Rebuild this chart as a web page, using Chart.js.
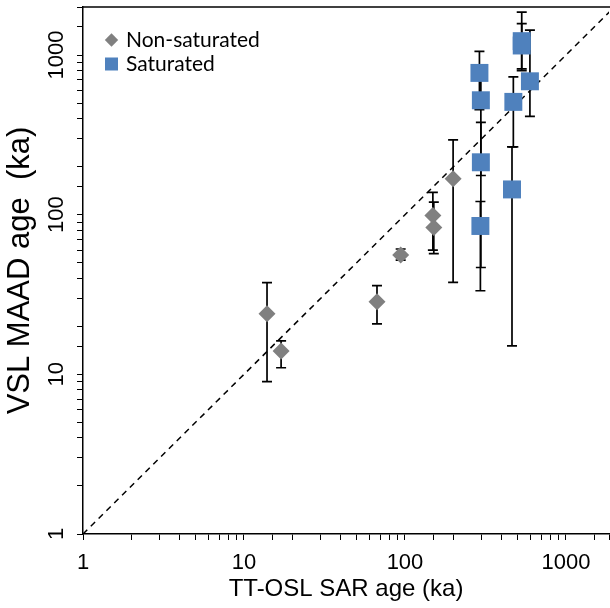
<!DOCTYPE html>
<html>
<head>
<meta charset="utf-8">
<script src="https://cdn.jsdelivr.net/npm/chart.js@4/dist/chart.umd.min.js"></script>
<style>
  body { margin: 0; background: #fff; }
  canvas { display: block; }
</style>
</head>
<body>
<canvas id="ages" width="610" height="608"></canvas>
<script>
// non-saturated samples: TT-OSL SAR age, VSL MAAD age, upper/lower error limits (ka)
const nsSar = [13.9, 17.0, 67, 94, 149, 151, 199];
const nsVsl = [24, 14, 28.5, 56, 99, 83, 168];
const nsHi = [37.5, 16.2, 36, 61, 138, 120, 294];
const nsLo = [9.0, 11.0, 20.7, 52, 60, 57, 37.7];

// saturated samples
const satSar = [290, 296, 296, 294, 531, 531, 597, 471, 462];
const satVsl = [773, 521, 213, 85, 1222, 1148, 685, 509, 144];
const satHi = [1054, 780, 379, 121, 1855, 1575, 1431, 730, 266];
const satLo = [455, 176, 46.7, 33.4, 820, 800, 413, 266, 15.1];

// 1:1 reference line and axis ranges
const oneToOne = [1, 2000];
const xMin = 1, xMax = 1850;
const yMin = 1, yMax = 2000;
const tickLabels = [1, 10, 100, 1000];

const GREY = '#808080';
const BLUE = '#4f81bd';
const TICK_FONT = '22px "Liberation Sans"';

function points(xs, ys) {
    return xs.map((x, i) => ({x: x, y: ys[i]}));
}

// keep the plot area fixed: no extra room reserved for edge labels
function fixBox(size) {
    return s => {
        if (s.isHorizontal()) s.height = size; else s.width = size;
        s.paddingTop = s.paddingBottom = s.paddingLeft = s.paddingRight = 0;
    };
}

// vertical error bars with caps, drawn under the markers
const errorBars = {
    id: 'errorBars',
    beforeDatasetsDraw(chart) {
        const ctx = chart.ctx;
        const xs = chart.scales.x, ys = chart.scales.y;
        ctx.save();
        ctx.strokeStyle = '#000';
        ctx.lineWidth = 1.7;
        chart.data.datasets.forEach(ds => {
            if (!ds.errHi) return;
            ds.data.forEach((p, j) => {
                const x = xs.getPixelForValue(p.x);
                const top = ys.getPixelForValue(ds.errHi[j]);
                const bot = ys.getPixelForValue(ds.errLo[j]);
                ctx.beginPath();
                ctx.moveTo(x, top); ctx.lineTo(x, bot);
                ctx.moveTo(x - 5, top); ctx.lineTo(x + 5, top);
                ctx.moveTo(x - 5, bot); ctx.lineTo(x + 5, bot);
                ctx.stroke();
            });
        });
        ctx.restore();
    }
};

// y tick labels are written vertically, reading upwards
const yTickLabels = {
    id: 'yTickLabels',
    afterDraw(chart) {
        const ctx = chart.ctx;
        const ys = chart.scales.y;
        ctx.save();
        ctx.font = TICK_FONT;
        ctx.fillStyle = '#000';
        ctx.textAlign = 'center';
        ctx.textBaseline = 'middle';
        tickLabels.forEach(v => {
            ctx.save();
            ctx.translate(57, ys.getPixelForValue(v));
            ctx.rotate(-Math.PI / 2);
            ctx.fillText(String(v), 0, 0);
            ctx.restore();
        });
        ctx.restore();
    }
};

// top frame line + legend in the upper left corner
const frameAndLegend = {
    id: 'frameAndLegend',
    afterDraw(chart) {
        const ctx = chart.ctx;
        const a = chart.chartArea;
        ctx.save();
        ctx.strokeStyle = '#000';
        ctx.lineWidth = 1.5;
        ctx.beginPath();
        ctx.moveTo(a.left, a.top); ctx.lineTo(a.right + 1, a.top);
        ctx.stroke();

        const items = chart.data.datasets.filter(d => d.legendRadius);
        ctx.font = '21px Lato';
        ctx.textBaseline = 'middle';
        items.forEach((ds, i) => {
            const y = 40 + i * 24;
            ctx.fillStyle = ds.backgroundColor;
            Chart.helpers.drawPoint(ctx, {pointStyle: ds.pointStyle, radius: ds.legendRadius, rotation: 0, borderWidth: 0}, 111.5, y);
            ctx.fillStyle = '#000';
            ctx.fillText(ds.label, 126, y);
        });
        ctx.restore();
    }
};

new Chart(document.getElementById('ages'), {
    type: 'scatter',
    data: {
        datasets: [
            {
                label: 'Non-saturated',
                data: points(nsSar, nsVsl),
                errHi: nsHi, errLo: nsLo,
                pointStyle: 'rectRot', pointRadius: 8.5, legendRadius: 6.7,
                backgroundColor: GREY, borderColor: GREY, borderWidth: 0,
                order: 1
            },
            {
                label: 'Saturated',
                data: points(satSar, satVsl),
                errHi: satHi, errLo: satLo,
                pointStyle: 'rect', pointRadius: 12.7, legendRadius: 9.2,
                backgroundColor: BLUE, borderColor: BLUE, borderWidth: 0,
                order: 0
            },
            {
                type: 'line',
                label: '1:1',
                data: points(oneToOne, oneToOne),
                borderColor: '#000', borderWidth: 1.5, borderDash: [6, 5],
                pointRadius: 0, fill: false,
                order: 3
            }
        ]
    },
    options: {
        responsive: false,
        animation: false,
        layout: {autoPadding: false, padding: {top: 7, right: 1, left: 0, bottom: 0}},
        plugins: {legend: {display: false}, tooltip: {enabled: false}},
        scales: {
            x: {
                type: 'logarithmic', min: xMin, max: xMax,
                afterFit: fixBox(74),
                border: {color: '#000', width: 1.5},
                grid: {drawOnChartArea: false, drawTicks: true, tickLength: 6, color: '#000'},
                ticks: {
                    autoSkip: false, maxRotation: 0, padding: 10, color: '#000',
                    font: {family: 'Liberation Sans', size: 22},
                    callback: v => tickLabels.includes(v) ? String(v) : ''
                },
                title: {
                    display: true, text: 'TT-OSL SAR age (ka)', color: '#000',
                    font: {family: 'Liberation Sans', size: 24}, padding: 4
                }
            },
            y: {
                type: 'logarithmic', min: yMin, max: yMax,
                afterFit: fixBox(83),
                border: {color: '#000', width: 1.5},
                grid: {drawOnChartArea: false, drawTicks: true, tickLength: 6, color: '#000'},
                ticks: {autoSkip: false, display: false},
                title: {
                    display: true, text: 'VSL MAAD age  (ka)', color: '#000',
                    font: {family: 'Liberation Sans', size: 31}, padding: 2
                }
            }
        }
    },
    plugins: [errorBars, yTickLabels, frameAndLegend]
});
</script>
</body>
</html>
